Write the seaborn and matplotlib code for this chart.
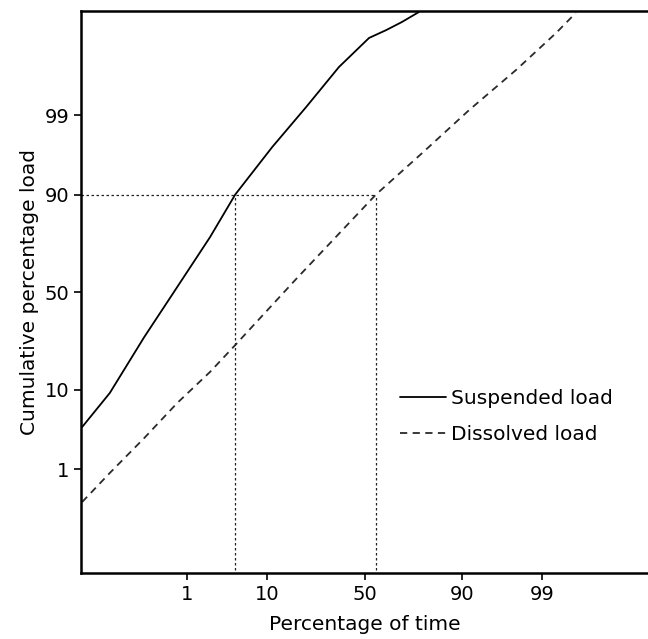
from statistics import NormalDist

import numpy as np
import pandas as pd
import matplotlib
matplotlib.use("Agg")
import matplotlib.pyplot as plt
import seaborn as sns

# values (percent, on probability axes)
susp_time = [0.0106, 0.0417, 0.193, 0.70, 2.14, 4.5, 11.3, 22.2, 36.9, 52.4, 61.1, 68.8, 76.2]
susp_load = [3.80, 9.23, 27.7, 52.6, 76.5, 90.0, 97.16, 99.247, 99.845, 99.958, 99.971, 99.9806, 99.9883]

diss_time = [0.0106, 0.0417, 0.193, 0.70, 2.14, 4.5, 18.5, 56.0, 77.5, 91.5, 97.65, 99.40, 99.72]
diss_load = [0.289, 0.870, 2.75, 7.23, 14.7, 24.3, 56.8, 90.0, 96.6, 99.16, 99.823, 99.9667, 99.9877]

ticks = [1, 10, 50, 90, 99]
cross_load = 90
cross_susp = 4.5
cross_diss = 56.0

nd = NormalDist()


def fwd(p):
    p = np.clip(np.asarray(p, dtype=float), 1e-7, 100 - 1e-7)
    return np.vectorize(lambda v: nd.inv_cdf(v / 100), otypes=[float])(p)


def inv(z):
    z = np.asarray(z, dtype=float)
    return np.vectorize(lambda v: nd.cdf(v) * 100, otypes=[float])(z)


df = pd.concat([
    pd.DataFrame({"time": susp_time, "load": susp_load, "series": "Suspended load"}),
    pd.DataFrame({"time": diss_time, "load": diss_load, "series": "Dissolved load"}),
])

sns.set_style("ticks")
plt.rcParams["font.family"] = ["DejaVu Sans"]
plt.rcParams["text.color"] = "black"
plt.rcParams["axes.labelcolor"] = "black"

fig = plt.figure(figsize=(6.48, 6.39), dpi=100)
ax = fig.add_axes([0.125, 0.103, 0.875, 0.880])

ax.set_xscale("function", functions=(fwd, inv))
ax.set_yscale("function", functions=(fwd, inv))

sns.lineplot(data=df, x="time", y="load", hue="series", style="series",
             palette={"Suspended load": "black", "Dissolved load": "#2a2a2a"},
             dashes={"Suspended load": "", "Dissolved load": (4, 3)},
             linewidth=1.3, sort=False, estimator=None, ax=ax)

# reading lines at 90 %
dot = dict(color="#222222", linewidth=0.9, linestyle=(0, (2, 2)))
ax.plot([0.01, cross_diss], [cross_load, cross_load], **dot)
ax.plot([cross_susp, cross_susp], [0.01, cross_load], **dot)
ax.plot([cross_diss, cross_diss], [0.01, cross_load], **dot)

ax.set_xlim(0.01, 99.99)
ax.set_ylim(0.011, 99.989)
ax.set_xticks(ticks)
ax.set_yticks(ticks)
ax.set_xticklabels([str(t) for t in ticks])
ax.set_yticklabels([str(t) for t in ticks])
ax.minorticks_off()
ax.tick_params(axis="both", labelsize=14, length=5, width=1.2,
               colors="black", labelcolor="black")

for s in ["left", "bottom", "top"]:
    ax.spines[s].set_linewidth(1.8)
    ax.spines[s].set_color("black")
ax.spines["right"].set_visible(False)

ax.set_xlabel("Percentage of time", fontsize=14.5, labelpad=8, color="black")
ax.set_ylabel("Cumulative percentage load", fontsize=14.5, labelpad=4, color="black")

handles, labels = ax.get_legend_handles_labels()
leg = ax.legend(handles, labels, loc="center left", bbox_to_anchor=(0.53, 0.278),
                frameon=False, fontsize=14.5, handlelength=2.3, handletextpad=0.25,
                labelspacing=0.85)
for t in leg.get_texts():
    t.set_color("black")

fig.savefig("out.png", dpi=100)
